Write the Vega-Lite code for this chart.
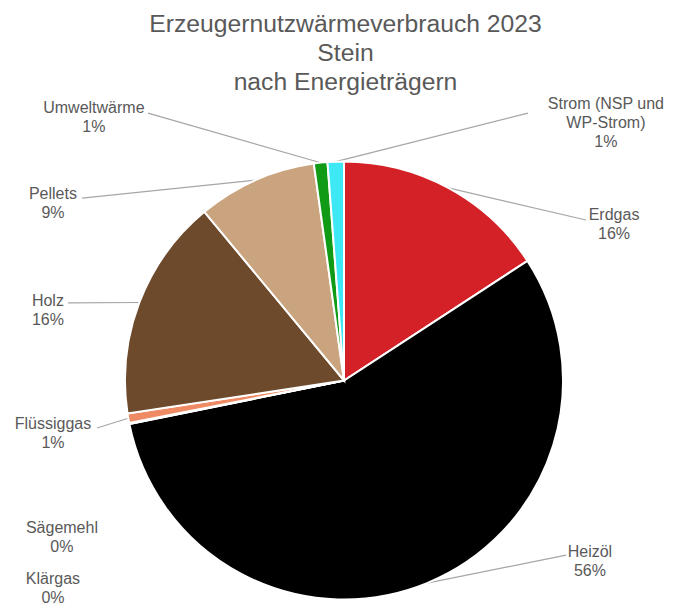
{
  "$schema": "https://vega.github.io/schema/vega-lite/v6.json",
  "width": 673,
  "height": 607,
  "autosize": {"type": "none"},
  "padding": 0,
  "background": "white",
  "title": {
    "text": ["Erzeugernutzwärmeverbrauch 2023", "Stein", "nach Energieträgern"],
    "font": "Liberation Sans",
    "fontSize": 24.7,
    "fontWeight": "normal",
    "color": "#595959",
    "lineHeight": 29,
    "anchor": "middle",
    "frame": "group",
    "dx": 9,
    "offset": -95
  },
  "config": {"view": {"stroke": null}},
  "data": {
    "values": [
      {"k": "Erdgas", "v": 15.8, "o": 1},
      {"k": "Heizöl", "v": 56.0, "o": 2},
      {"k": "Sägemehl", "v": 0.04, "o": 3},
      {"k": "Klärgas", "v": 0.04, "o": 4},
      {"k": "Flüssiggas", "v": 0.7, "o": 5},
      {"k": "Holz", "v": 16.4, "o": 6},
      {"k": "Pellets", "v": 8.8, "o": 7},
      {"k": "Umweltwärme", "v": 1.0, "o": 8},
      {"k": "Strom (NSP und WP-Strom)", "v": 1.2, "o": 9}
    ]
  },
  "transform": [
    {"joinaggregate": [{"op": "sum", "field": "v", "as": "tot"}]},
    {"window": [{"op": "sum", "field": "v", "as": "cum"}], "sort": [{"field": "o"}], "frame": [null, 0]},
    {"calculate": "2*PI*(datum.cum - datum.v/2)/datum.tot", "as": "mid"},
    {"calculate": "sin(datum.mid)", "as": "sx"},
    {"calculate": "cos(datum.mid)", "as": "sy"},
    {"calculate": "{'Erdgas':[1.233,0.756,1.105,0.733],'Heizöl':[1.123,-0.783,1.014,-0.797],'Sägemehl':[-1.288,-0.674,null,null],'Klärgas':[-1.329,-0.908,null,null],'Flüssiggas':[-1.329,-0.199,-1.128,-0.217],'Holz':[-1.352,0.363,-1.260,0.354],'Pellets':[-1.329,0.852,-1.196,0.833],'Umweltwärme':[-1.142,1.244,-0.895,1.221],'Strom (NSP und WP-Strom)':[1.196,1.263,0.840,1.221]}[datum.k]", "as": "L"},
    {"calculate": "datum.L[0]", "as": "lx"},
    {"calculate": "datum.L[1]", "as": "ly"},
    {"calculate": "datum.L[2]", "as": "ex"},
    {"calculate": "datum.L[3]", "as": "ey"},
    {"calculate": "replace(datum.k, 'und ', 'und\\n') + '\\n' + round(100*datum.v/datum.tot) + '%'", "as": "lab"}
  ],
  "layer": [
    {
      "transform": [{"filter": "datum.ex != null"}],
      "mark": {"type": "rule", "color": "#A6A6A6", "strokeWidth": 1.2},
      "encoding": {
        "x": {"field": "sx", "type": "quantitative", "scale": {"domain": [-1.5708, 1.5023], "nice": false, "zero": false}, "axis": null},
        "y": {"field": "sy", "type": "quantitative", "scale": {"domain": [-1.0342, 1.7374], "nice": false, "zero": false}, "axis": null},
        "x2": {"field": "ex"},
        "y2": {"field": "ey"}
      }
    },
    {
      "mark": {"type": "arc", "radius": 219, "stroke": "white", "strokeWidth": 2},
      "encoding": {
        "x": {"datum": 0, "type": "quantitative", "scale": {"domain": [-1.5708, 1.5023], "nice": false, "zero": false}, "axis": null},
        "y": {"datum": 0, "type": "quantitative", "scale": {"domain": [-1.0342, 1.7374], "nice": false, "zero": false}, "axis": null},
        "theta": {"field": "v", "type": "quantitative", "stack": true},
        "order": {"field": "o", "type": "quantitative"},
        "color": {
          "field": "k",
          "type": "nominal",
          "scale": {
            "domain": ["Erdgas", "Heizöl", "Sägemehl", "Klärgas", "Flüssiggas", "Holz", "Pellets", "Umweltwärme", "Strom (NSP und WP-Strom)"],
            "range": ["#D42027", "#000000", "#F2C14E", "#7F7F7F", "#EE8A64", "#6C4A2B", "#C9A47E", "#119A15", "#3EE9F5"]
          },
          "legend": null
        }
      }
    },
    {
      "mark": {"type": "text", "font": "Liberation Sans", "fontSize": 16, "color": "#595959", "align": "center", "baseline": "middle", "lineBreak": "\n", "lineHeight": 19},
      "encoding": {
        "x": {"field": "lx", "type": "quantitative", "scale": {"domain": [-1.5708, 1.5023], "nice": false, "zero": false}, "axis": null},
        "y": {"field": "ly", "type": "quantitative", "scale": {"domain": [-1.0342, 1.7374], "nice": false, "zero": false}, "axis": null},
        "text": {"field": "lab"}
      }
    }
  ]
}
